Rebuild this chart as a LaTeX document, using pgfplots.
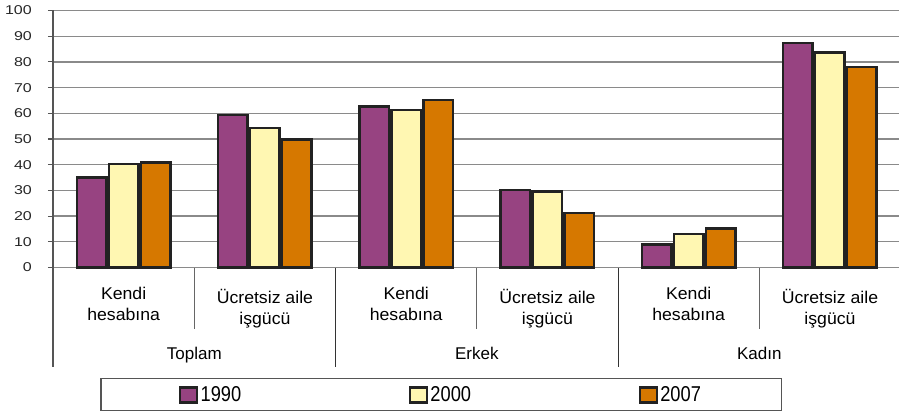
\documentclass[border=0pt]{standalone}
\usepackage{fontspec}
\setmainfont{Liberation Sans}
\newfontfamily\tickfont{Liberation Sans}[FakeStretch=1.25]
\newfontfamily\catfont{Liberation Sans}[FakeStretch=1.04]
\newfontfamily\grpfont{Liberation Sans}[FakeStretch=1.0]
\newfontfamily\legfont{Liberation Sans}[FakeStretch=0.85]
\usepackage{pgfplots}
\pgfplotsset{compat=1.18}
\definecolor{c1990}{HTML}{974381}
\definecolor{c2000}{HTML}{FFF7B2}
\definecolor{c2007}{HTML}{D67800}
\definecolor{barline}{HTML}{222222}
\definecolor{gridc}{HTML}{8A8A8A}
\definecolor{axisc}{HTML}{555555}
\pgfplotsset{
  mybar/.style={ybar, bar width=29.5pt, draw=barline, line width=2.5pt,
    legend image code/.code={\draw[##1, line width=2.2pt] (0pt,-8pt) rectangle (17pt,7pt);}},
}
\tikzset{
  catlab/.style={anchor=base, font=\catfont\fontsize{17}{20}\selectfont, inner sep=0pt},
  grplab/.style={anchor=base, font=\grpfont\fontsize{17}{20}\selectfont, inner sep=0pt},
}
\begin{document}
\begin{tikzpicture}
\useasboundingbox (-53pt,-149.5pt) rectangle (846pt,267.5pt);
\begin{axis}[
  scale only axis, width=847.6pt, height=257pt,
  xmin=0, xmax=6, ymin=0, ymax=100,
  axis lines*=left,
  x axis line style={gridc, line width=1.3pt},
  y axis line style={axisc, line width=1.3pt},
  xtick=\empty,
  ytick={0,10,...,100},
  /pgf/number format/assume math mode=true,
  ymajorgrids,
  grid style={gridc, line width=1.3pt},
  tick align=outside, major tick length=5pt,
  ytick style={axisc, line width=1.2pt},
  yticklabel style={font=\tickfont\fontsize{12.8}{14}\selectfont, color=black!85, inner sep=0pt, xshift=-16pt},
  clip=false,
  legend columns=3,
  legend style={at={(0.4580,-0.4942)}, anchor=center, draw=axisc, line width=1.2pt,
    font=\legfont\fontsize{21.5}{24}\selectfont,
    inner xsep=78pt, inner ysep=5pt,
    /tikz/every even column/.append style={column sep=165pt},
    nodes={inner sep=2.5pt}},
]
\addplot[mybar, bar shift=-32pt, fill=c1990] coordinates {(0.5,35.1) (1.5,59.3) (2.5,62.6) (3.5,30.1) (4.5,9.0) (5.5,87.4)};
\addlegendentry{1990}
\addplot[mybar, bar shift=0pt, fill=c2000] coordinates {(0.5,40.2) (1.5,54.2) (2.5,61.2) (3.5,29.6) (4.5,13.1) (5.5,83.7)};
\addlegendentry{2000}
\addplot[mybar, bar shift=32pt, fill=c2007] coordinates {(0.5,40.9) (1.5,49.8) (2.5,65.1) (3.5,21.3) (4.5,15.1) (5.5,78.1)};
\addlegendentry{2007}
% separators
\draw[axisc, line width=1.2pt] (axis cs:0,0) -- ++(0,-99.5pt);
\draw[black!80, line width=1.1pt] (axis cs:2,0) -- ++(0,-99.5pt);
\draw[black!80, line width=1.1pt] (axis cs:4,0) -- ++(0,-99.5pt);
\draw[black!60, line width=1.1pt] (axis cs:1,0) -- ++(0,-61.5pt);
\draw[black!60, line width=1.1pt] (axis cs:3,0) -- ++(0,-61.5pt);
\draw[black!60, line width=1.1pt] (axis cs:5,0) -- ++(0,-61.5pt);
% category labels
\node[catlab] at (axis cs:0.5,0) [yshift=-31.5pt] {Kendi};
\node[catlab] at (axis cs:0.5,0) [yshift=-53pt] {hesabına};
\node[catlab] at (axis cs:2.5,0) [yshift=-31.5pt] {Kendi};
\node[catlab] at (axis cs:2.5,0) [yshift=-53pt] {hesabına};
\node[catlab] at (axis cs:4.5,0) [yshift=-31.5pt] {Kendi};
\node[catlab] at (axis cs:4.5,0) [yshift=-53pt] {hesabına};
\node[catlab] at (axis cs:1.5,0) [yshift=-36pt] {Ücretsiz aile};
\node[catlab] at (axis cs:1.5,0) [yshift=-57pt] {işgücü};
\node[catlab] at (axis cs:3.5,0) [yshift=-36pt] {Ücretsiz aile};
\node[catlab] at (axis cs:3.5,0) [yshift=-57pt] {işgücü};
\node[catlab] at (axis cs:5.5,0) [yshift=-36pt] {Ücretsiz aile};
\node[catlab] at (axis cs:5.5,0) [yshift=-57pt] {işgücü};
\node[grplab] at (axis cs:1,0) [yshift=-92pt] {Toplam};
\node[grplab] at (axis cs:3,0) [yshift=-92pt] {Erkek};
\node[grplab] at (axis cs:5,0) [yshift=-92pt] {Kadın};
\end{axis}
\end{tikzpicture}
\end{document}
